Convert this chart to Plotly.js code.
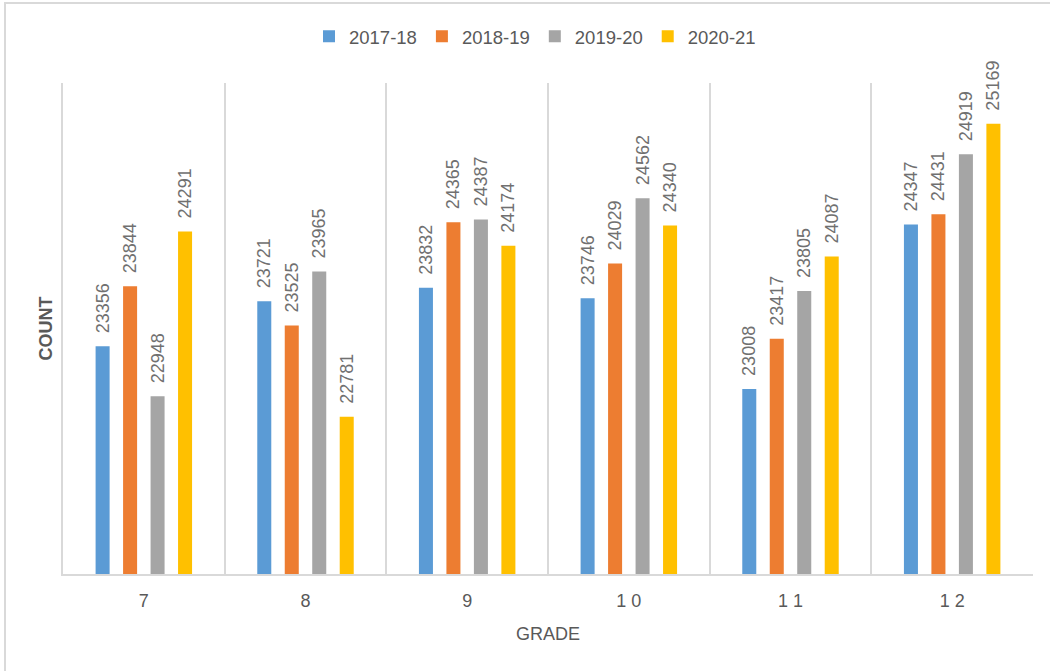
<!DOCTYPE html>
<html>
<head>
<meta charset="utf-8">
<script src="https://cdn.plot.ly/plotly-3.0.1.min.js"></script>
<style>html,body{margin:0;padding:0;background:#fff;}#chart{width:1050px;height:671px;}</style>
</head>
<body>
<div id="chart"></div>
<script>
const grades = ["7", "8", "9", "10", "11", "12"];
const gradeLabels = ["7", "8", "9", "1 0", "1 1", "1 2"];
const seriesNames = ["2017-18", "2018-19", "2019-20", "2020-21"];
const v2017 = [23356, 23721, 23832, 23746, 23008, 24347];
const v2018 = [23844, 23525, 24365, 24029, 23417, 24431];
const v2019 = [22948, 23965, 24387, 24562, 23805, 24919];
const v2020 = [24291, 22781, 24174, 24340, 24087, 25169];
const colors = ["#5B9BD5", "#ED7D31", "#A5A5A5", "#FFC000"];
const allValues = [v2017, v2018, v2019, v2020];

const font = "Liberation Sans, Arial, sans-serif";
const traces = allValues.map((vals, i) => ({
  type: "bar",
  name: seriesNames[i],
  x: grades,
  y: vals,
  marker: {color: colors[i]},
  text: vals.map(v => "\u00a0\u00a0" + v),
  textposition: "outside",
  textangle: -90,
  constraintext: "none",
  cliponaxis: false,
  textfont: {family: font, size: 18, color: "#707070"},
  hoverinfo: "x+y+name"
}));

const layout = {
  width: 1050,
  height: 671,
  margin: {l: 63, r: 17, t: 83, b: 97},
  paper_bgcolor: "#ffffff",
  plot_bgcolor: "#ffffff",
  barmode: "group",
  bargap: 0.32,
  bargroupgap: 0.49,
  showlegend: true,
  legend: {
    orientation: "h",
    x: 0.4866, xanchor: "center",
    y: 1.094, yanchor: "middle",
    font: {family: font, size: 18.5, color: "#595959"},
    itemwidth: 30,
    traceorder: "normal"
  },
  xaxis: {
    type: "category",
    tickvals: grades,
    ticktext: gradeLabels,
    tickson: "boundaries",
    ticks: "",
    ticklabelstandoff: 9,
    showgrid: true,
    gridcolor: "#D9D9D9",
    gridwidth: 2,
    showline: true,
    linecolor: "#D9D9D9",
    linewidth: 2,
    tickfont: {family: font, size: 18, color: "#595959"},
    title: {text: "GRADE", font: {family: font, size: 18, color: "#595959"}, standoff: 18},
    fixedrange: true
  },
  yaxis: {
    range: [21500, 25500],
    showgrid: false,
    zeroline: false,
    showticklabels: false,
    ticks: "",
    showline: true,
    linecolor: "#D9D9D9",
    linewidth: 2,
    title: {text: "<b>COUNT</b>", font: {family: font, size: 18, color: "#595959"}, standoff: 4},
    fixedrange: true
  },
  shapes: [{
    type: "rect", xref: "paper", yref: "paper",
    x0: -0.0598, x1: 1.2, y0: -0.3, y1: 1.163,
    line: {color: "#D9D9D9", width: 2},
    fillcolor: "rgba(0,0,0,0)",
    layer: "below"
  }]
};

Plotly.newPlot("chart", traces, layout, {displayModeBar: false, staticPlot: true});
</script>
</body>
</html>
